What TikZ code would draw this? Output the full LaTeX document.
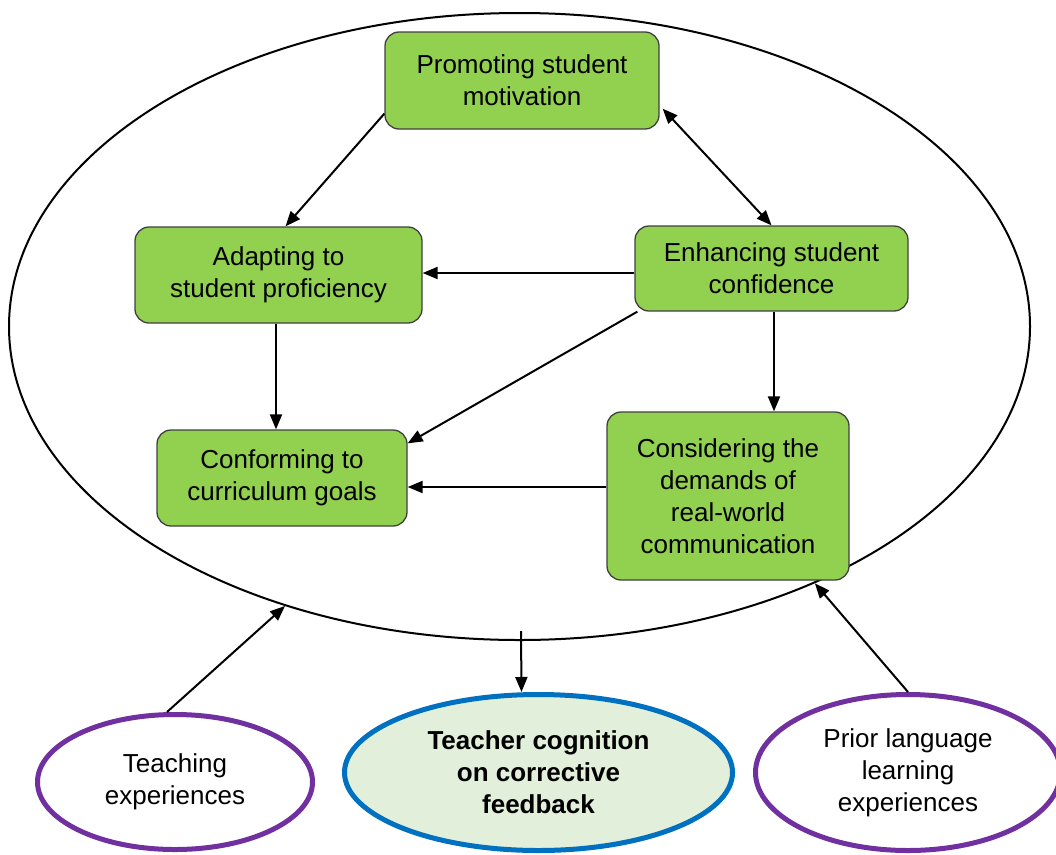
\documentclass[tikz,border=0pt]{standalone}
\usepackage{fontspec}
\setmainfont{Liberation Sans}
\usetikzlibrary{shapes.geometric,arrows.meta}
\definecolor{boxgreen}{HTML}{92D050}
\definecolor{boxedge}{HTML}{404040}
\definecolor{sourcepurple}{HTML}{7030A0}
\definecolor{outcomeblue}{HTML}{0070C0}
\definecolor{outcomefill}{HTML}{E2EFDA}
\tikzset{
  factor/.style={draw=boxedge, line width=1.3pt, fill=boxgreen, rounded corners=14pt,
    align=center, inner sep=0pt, font=\fontsize{26}{32}\selectfont},
  source/.style={ellipse, draw=sourcepurple, line width=5pt, fill=white,
    align=center, inner sep=0pt, font=\fontsize{26}{32}\selectfont},
  outcome/.style={ellipse, draw=outcomeblue, line width=5pt, fill=outcomefill,
    align=center, inner sep=0pt, font=\bfseries\fontsize{26}{32}\selectfont},
  link/.style={line width=2pt, -{Triangle[length=15pt,width=12pt]}},
  biglink/.style={line width=2pt, {Triangle[length=15pt,width=12pt]}-{Triangle[length=15pt,width=12pt]}}
}
\begin{document}
\begin{tikzpicture}[x=1pt,y=-1pt]
\useasboundingbox (0,0) rectangle (1056,854);

% context ellipse holding the five considerations
\node[ellipse, draw, line width=2pt, minimum width=1021pt, minimum height=627pt, inner sep=0pt]
  (ctx) at (519.5,326.5) {};

% considerations
\node[factor, minimum width=274pt, minimum height=97pt] (prom) at (522,80.5)
  {Promoting student\\motivation};
\node[factor, minimum width=287pt, minimum height=96pt] (adapt) at (278.5,275)
  {Adapting to\\student proficiency};
\node[factor, minimum width=273pt, minimum height=85pt] (enh) at (771.5,268.5)
  {Enhancing student\\confidence};
\node[factor, minimum width=250pt, minimum height=96pt] (conf) at (282,478)
  {Conforming to\\curriculum goals};
\node[factor, minimum width=242pt, minimum height=168pt] (cons) at (728,496)
  {Considering the\\demands of\\real-world\\communication};

% sources and outcome
\node[source, minimum width=275pt, minimum height=135pt] (teach) at (175,782)
  {Teaching\\experiences};
\node[outcome, minimum width=388pt, minimum height=156pt] (tcog) at (538.5,772.5)
  {Teacher cognition\\on corrective\\feedback};
\node[source, minimum width=305pt, minimum height=156pt] (prior) at (908,772.5)
  {Prior language\\learning\\experiences};

% relations among considerations
\draw[link] ([yshift=16pt]prom.south west) -- ([xshift=7pt]adapt.north);
\draw[biglink] ([xshift=3pt,yshift=21pt]prom.south east) -- (enh.north);
\draw[link] ([yshift=-4.5pt]enh.west) -- ([yshift=2pt]adapt.east);
\draw[link] ([xshift=-2.5pt]adapt.south) -- ([xshift=-6pt]conf.north);
\draw[link] ([xshift=3pt]enh.south west) -- ([yshift=-14pt]conf.north east);
\draw[link] ([xshift=2.5pt]enh.south) -- ([xshift=46pt]cons.north);
\draw[link] ([yshift=9pt]cons.west) -- ([yshift=-9pt]conf.east);

% influences in and out of the context
\draw[link] ([xshift=1.5pt,yshift=10pt]ctx.south) -- ([xshift=-17pt]tcog.north);
\draw[link] ([xshift=-8pt]teach.north) -- (ctx.230.5);
\draw[link] (prior.north) -- (ctx.319.5);
\end{tikzpicture}
\end{document}
